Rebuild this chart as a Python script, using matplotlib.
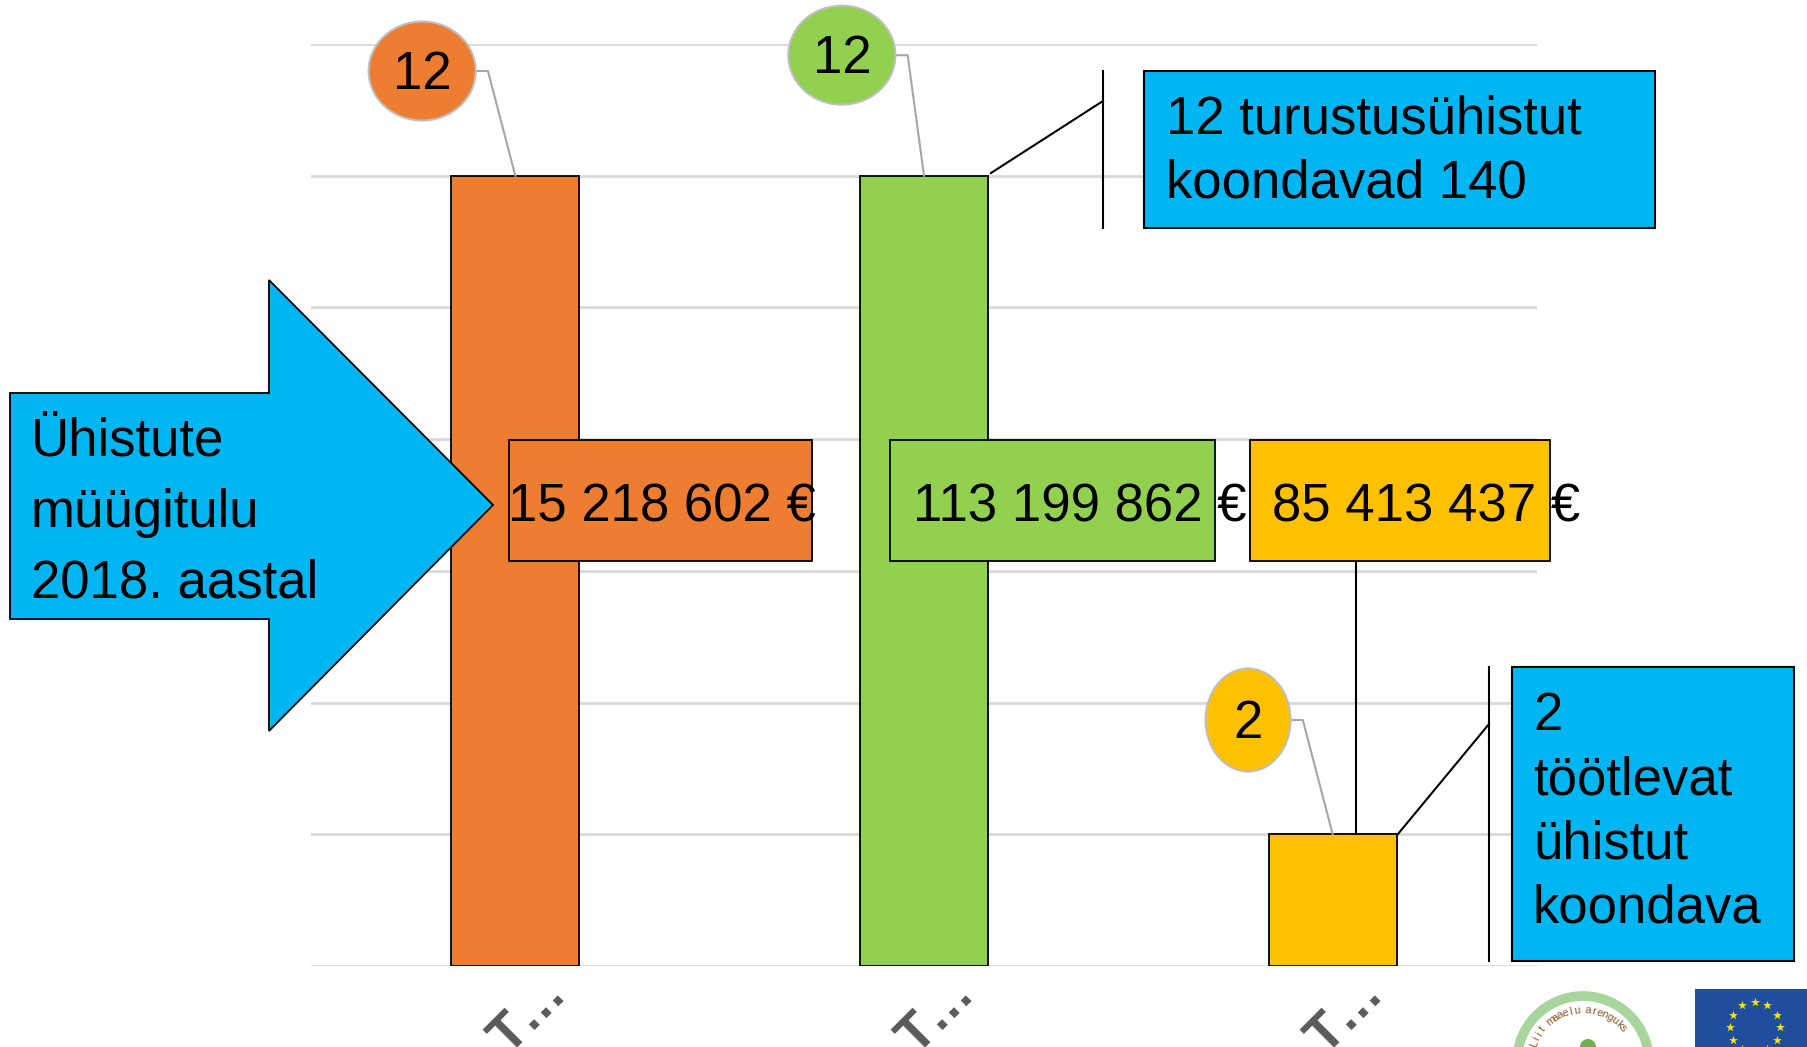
import numpy as np
import matplotlib
matplotlib.use("Agg")
import matplotlib.pyplot as plt
from matplotlib.patches import Rectangle, Ellipse, Polygon, Circle
from matplotlib.transforms import ScaledTranslation

plt.rcParams['font.family'] = ['Liberation Sans', 'DejaVu Sans']

# ---- data ----
categories = ["T…", "T…", "T…"]
counts = [12, 12, 2]
revenue_labels = ["15 218 602 €", "113 199 862 €", "85 413 437 €"]
bar_colors = ["#ED7D31", "#92D050", "#FFC000"]
arrow_lines = ["Ühistute", "müügitulu", "2018. aastal"]
callout_top_lines = ["12 turustusühistut", "koondavad 140"]
callout_bottom_lines = ["2", "töötlevat", "ühistut", "koondava"]

BLUE = "#00B6F2"
FS = 38
W, H = 1807, 1047

fig = plt.figure(figsize=(W / 100, H / 100), dpi=100)
ax = fig.add_axes([311 / W, 1 - 966 / H, (1537 - 311) / W, (966 - 44) / H])
ax.set_xlim(-0.5, 2.5)
ax.set_ylim(0, 14)
x = np.arange(len(categories))
ax.bar(x, counts, width=0.313, color=bar_colors, edgecolor="black", linewidth=1.3, zorder=2)
ax.set_yticks(np.arange(0, 15, 2))
ax.yaxis.grid(True, color="#D9D9D9", linewidth=2)
ax.set_axisbelow(True)
for s in ax.spines.values():
    s.set_visible(False)
ax.tick_params(left=False, labelleft=False, bottom=False)
ax.set_xticks(x)
ax.set_xticklabels(categories, rotation=45, fontsize=FS, color="#595959", ha="center",
                   fontweight="bold")
ax.tick_params(axis="x", pad=-2)
shift = ScaledTranslation(13 / 100, 0, fig.dpi_scale_trans)
for lbl in ax.get_xticklabels():
    lbl.set_transform(lbl.get_transform() + shift)

# count bubbles with leader lines
ell_pos = [(-0.228, 13.59, 0.262, 1.503), (0.799, 13.83, 0.262, 1.503), (1.793, 3.735, 0.208, 1.564)]
for i, (cx, cy, ew, eh) in enumerate(ell_pos):
    ax.add_patch(Ellipse((cx, cy), ew, eh, facecolor=bar_colors[i], edgecolor="#BFBFBF",
                         linewidth=1.5, zorder=4, clip_on=False))
    ax.text(cx, cy - 0.06, str(counts[i]), fontsize=FS, ha="center", va="center", zorder=5)
    xr = cx + ew / 2
    ax.plot([xr, xr + 0.03, x[i]], [cy, cy, counts[i]], color="#A6A6A6", linewidth=1.5,
            zorder=3, clip_on=False)

# revenue boxes
box_x = [(-0.016, 0.726), (0.917, 1.712), (1.797, 2.532)]
text_x = [0.359, 1.382, 2.228]
for i in range(3):
    x0, x1 = box_x[i]
    ax.add_patch(Rectangle((x0, 6.15), x1 - x0, 1.84, facecolor=bar_colors[i], edgecolor="black",
                           linewidth=1.3, zorder=6, clip_on=False))
    ax.text(text_x[i], 6.96, revenue_labels[i], fontsize=FS, ha="center", va="center",
            zorder=7, clip_on=False)
ax.plot([2.057, 2.057], [6.15, counts[2]], color="black", linewidth=1.5, zorder=3)

# overlay in pixel coordinates for decorations
ov = fig.add_axes([0, 0, 1, 1])
ov.set_xlim(0, W)
ov.set_ylim(H, 0)
ov.axis("off")

DY = 4
arrow = [(10, 393), (269, 393), (269, 280), (493, 505), (269, 731), (269, 619), (10, 619)]
ov.add_patch(Polygon(arrow, closed=True, facecolor=BLUE, edgecolor="black", linewidth=1.3, zorder=2))
for k, t in enumerate(arrow_lines):
    ov.text(31, 438 + DY + 71 * k, t, fontsize=FS, ha="left", va="center", zorder=3)

# top callout
ov.add_patch(Rectangle((1144, 71), 511, 157, facecolor=BLUE, edgecolor="black", linewidth=1.5, zorder=2))
ov.plot([1103, 1103], [71, 228], color="black", linewidth=1.5)
ov.plot([991, 1103], [173, 101], color="black", linewidth=1.5)
for k, t in enumerate(callout_top_lines):
    ov.text(1166, 115 + DY + 64 * k, t, fontsize=FS, ha="left", va="center", zorder=3)

# bottom callout
ov.add_patch(Rectangle((1512, 667), 282, 294, facecolor=BLUE, edgecolor="black", linewidth=1.5, zorder=2))
ov.plot([1489, 1489], [667, 961], color="black", linewidth=1.5)
ov.plot([1398, 1489], [834, 724], color="black", linewidth=1.5)
for k, t in enumerate(callout_bottom_lines):
    ov.text(1533, 712 + DY + 64.3 * k, t, fontsize=FS, ha="left", va="center", zorder=3)

# logo (approximation)
lc = (1583, 1062)
ov.add_patch(Circle(lc, 66, facecolor="white", edgecolor="#A8D59B", linewidth=7, zorder=2))
logo_text = "Liit maaelu arenguks"
angs = np.linspace(160, 40, len(logo_text))
for ch, a in zip(logo_text, angs):
    r = 52
    px = lc[0] + r * np.cos(np.radians(a))
    py = lc[1] - r * np.sin(np.radians(a))
    ov.text(px, py, ch, fontsize=8, color="#8B5A2B", rotation=a - 90, ha="center", va="center", zorder=3)
for (dx, dy, rr) in [(-20, 10, 9), (-8, -5, 10), (5, -15, 8), (-28, 25, 8), (10, 0, 7)]:
    ov.add_patch(Circle((lc[0] + dx, lc[1] + dy), rr, facecolor="#6DAE4E", edgecolor="none", zorder=3))
ov.plot([lc[0] - 35, lc[0] - 5, lc[0] + 15], [lc[1] + 40, lc[1] + 5, lc[1] - 10], color="#8B4A2B",
        linewidth=4, zorder=4)
ov.add_patch(Polygon([(lc[0] - 5, lc[1] + 30), (lc[0] + 20, lc[1] + 5), (lc[0] + 45, lc[1] + 30)],
                     facecolor="#8B4A2B", edgecolor="none", zorder=3))

# EU flag
ov.add_patch(Rectangle((1695, 989), 115, 70, facecolor="#1F4E9E", edgecolor="none", zorder=2))
sa = np.radians(np.arange(0, 360, 30))
ov.scatter(1755 + 25 * np.sin(sa), 1027 - 25 * np.cos(sa), marker="*", s=45, color="#FFE500",
           zorder=3, linewidths=0)

fig.savefig("out.png", dpi=100)
